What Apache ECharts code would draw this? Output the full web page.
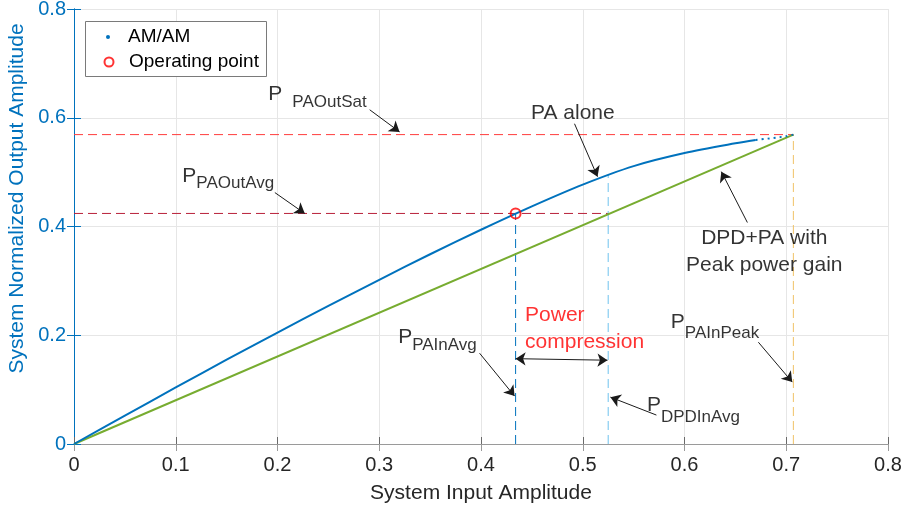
<!DOCTYPE html>
<html><head><meta charset="utf-8">
<script src="https://cdn.jsdelivr.net/npm/echarts@6/dist/echarts.min.js"></script>
<style>html,body{margin:0;padding:0;background:#fff}#c{width:907px;height:514px}</style>
</head><body><div id="c"></div>
<script>
// ---- data ----
const xTickLabels = ['0','0.1','0.2','0.3','0.4','0.5','0.6','0.7','0.8'];
const yTickLabels = ['0','0.2','0.4','0.6','0.8'];
// PA alone AM/AM (solid part)
const paX = [0,0.05,0.1,0.15,0.2,0.25,0.3,0.35,0.4,0.45,0.5,0.55,0.6,0.65,0.67];
const paY = [0,0.052,0.104,0.155,0.205,0.254,0.302,0.349,0.394,0.437,0.477,0.511,0.535,0.553,0.559];
// sparse tail of AM/AM near saturation
const tailX = [0.67,0.7,0.707];
const tailY = [0.559,0.566,0.569];
// DPD + PA linearised
const dpdX = [0,0.707];
const dpdY = [0,0.569];
// operating point
const opX = [0.434];
const opY = [0.424];
// reference levels
const pOutSat = 0.569, pOutAvg = 0.424;
const pPAInAvg = 0.434, pDPDInAvg = 0.525, pPAInPeak = 0.707;
const paAtDPDInAvg = 0.495;

// ---- annotation layout ----
const subLabels = [
  {main:'P', sub:'PAOutSat', at:[0.191,0.663], gap:10, drop:10},
  {main:'P', sub:'PAOutAvg', at:[0.1065,0.511], gap:0, drop:9},
  {main:'P', sub:'PAInAvg', at:[0.3186,0.2156], gap:0, drop:10},
  {main:'P', sub:'PAInPeak', at:[0.5866,0.2431], gap:0, drop:13},
  {main:'P', sub:'DPDInAvg', at:[0.5631,0.0908], gap:0, drop:14}
];
const plainLabels = [
  {text:'PA alone', at:[0.4492,0.6092], align:'left', color:'#000'},
  {text:'DPD+PA with\nPeak power gain', at:[0.6784,0.3532], align:'center', color:'#000'},
  {text:'Power\ncompression', at:[0.4433,0.2125], align:'left', color:'#ff0000'}
];
const arrows = [
  [[0.2906,0.6147],[0.320,0.574]],
  [[0.1974,0.4624],[0.2268,0.4239]],
  [[0.4919,0.589],[0.5145,0.4917]],
  [[0.6618,0.4073],[0.6362,0.5009]],
  [[0.3986,0.167],[0.433,0.0881]],
  [[0.6726,0.1872],[0.7059,0.1138]],
  [[0.5724,0.0532],[0.5272,0.0862]]
];
const doubleArrow = [[0.434,0.1569],[0.5243,0.1541]];

const zip = (a,b) => a.map((v,i)=>[v,b[i]]);
const dash = [9,5];

const markData = arrows.map(a => [
  {coord:a[0], symbol:'none'},
  {coord:a[1], symbol:'arrow', symbolSize:10}
]);
markData.push([
  {coord:doubleArrow[0], symbol:'arrow', symbolSize:10},
  {coord:doubleArrow[1], symbol:'arrow', symbolSize:10}
]);

const annData = [];
subLabels.forEach(s => annData.push({
  value: s.at,
  label: {
    show:true, position:'inside', align:'left', verticalAlign:'top',
    formatter: '{p|' + s.main + '}{s|' + s.sub + '}',
    rich: {
      p: {fontSize:21, lineHeight:23, verticalAlign:'top', color:'#000', fontFamily:'Liberation Sans'},
      s: {fontSize:17, lineHeight:19, verticalAlign:'top', color:'#000', fontFamily:'Liberation Sans', padding:[s.drop,0,0,s.gap]}
    }
  }
}));
plainLabels.forEach(s => annData.push({
  value: s.at,
  label: {
    show:true, position:'inside', align:s.align, verticalAlign:'middle',
    formatter: s.text, color:s.color, fontSize:21, lineHeight:27.5, fontFamily:'Liberation Sans'
  }
}));

const vline = (x, y, color) => ({
  type:'line', data:[[x,0],[x,y]], symbol:'none', silent:true,
  lineStyle:{color:color, width:1, type:dash}, z:1
});
const hline = (x, y, color) => ({
  type:'line', data:[[0,y],[x,y]], symbol:'none', silent:true,
  lineStyle:{color:color, width:1, type:dash}, z:1
});

const axisGray = '#6a6a6a';
const blue = '#0072BD';

const option = {
  animation:false,
  textStyle:{fontFamily:'Liberation Sans'},
  grid:{left:74, right:19, top:9, bottom:70, outerBoundsMode:'none', containLabel:false},
  xAxis:[{
    type:'value', min:0, max:0.8, interval:0.1, position:'bottom',
    name:'System Input Amplitude', nameLocation:'middle', nameGap:39,
    nameTextStyle:{fontSize:21, color:'#262626'},
    axisLine:{show:true, lineStyle:{color:axisGray, width:1}},
    axisTick:{show:true, inside:true, length:7, lineStyle:{color:axisGray}},
    axisLabel:{fontSize:20, color:'#262626', margin:11,
      formatter:v => xTickLabels[Math.round(v*10)]},
    splitLine:{show:true, lineStyle:{color:'#e6e6e6', width:1}}
  },{
    type:'value', min:0, max:0.8, interval:0.1, position:'top',
    axisLine:{show:true, lineStyle:{color:'#9a9a9a', width:1}},
    axisTick:{show:true, inside:true, length:7, lineStyle:{color:'#9a9a9a'}},
    axisLabel:{show:false}, splitLine:{show:false}
  }],
  yAxis:[{
    type:'value', min:0, max:0.8, interval:0.2, position:'left',
    name:'System Normalized Output Amplitude', nameLocation:'middle', nameGap:44,
    nameTextStyle:{fontSize:21, color:blue, padding:[0,0,0,56]},
    axisLine:{show:true, lineStyle:{color:blue, width:1}},
    axisTick:{show:true, inside:true, length:7, lineStyle:{color:blue}},
    axisLabel:{fontSize:20, color:blue, margin:8,
      formatter:v => yTickLabels[Math.round(v*5)]},
    splitLine:{show:true, lineStyle:{color:'#e6e6e6', width:1}}
  },{
    type:'value', min:0, max:0.8, interval:0.2, position:'right',
    axisLine:{show:true, lineStyle:{color:blue, width:1}},
    axisTick:{show:true, inside:true, length:7, lineStyle:{color:blue}},
    axisLabel:{show:false}, splitLine:{show:false}
  }],
  legend:[{
    data:[{name:'AM/AM', icon:'circle', itemStyle:{color:blue}}],
    left:106, top:26, padding:0, itemWidth:4, itemHeight:4, selectedMode:false,
    textStyle:{fontSize:19, color:'#000', lineHeight:22, padding:[0,0,0,13]}
  },{
    data:[{name:'Operating point', icon:'circle', itemStyle:{color:'#fff', borderColor:'#ff0000', borderWidth:2}}],
    left:103.5, top:51, padding:0, itemWidth:9, itemHeight:9, selectedMode:false,
    textStyle:{fontSize:19, color:'#000', lineHeight:22, padding:[0,0,0,10.5]}
  }],
  graphic:[{
    type:'rect', z:3, silent:true,
    shape:{x:85.5, y:21.5, width:181, height:55},
    style:{fill:'#fff', stroke:'#7a7a7a', lineWidth:1}
  }],
  series:[
    hline(pPAInPeak, pOutSat, '#ff3d3d'),
    hline(pDPDInAvg, pOutAvg, '#b8203a'),
    vline(pPAInAvg, pOutAvg, blue),
    vline(pDPDInAvg, paAtDPDInAvg, '#6ec2ee'),
    vline(pPAInPeak, pOutSat, '#f0c266'),
    {
      name:'DPD+PA', type:'line', data:zip(dpdX,dpdY), symbol:'none', silent:true,
      lineStyle:{color:'#77AC30', width:2}, z:3,
      markLine:{
        silent:true, animation:false, symbolSize:10,
        label:{show:false}, emphasis:{disabled:true},
        lineStyle:{color:'#1a1a1a', width:1, type:'solid'},
        data:markData
      }
    },
    {
      name:'AM/AM', type:'line', data:zip(paX,paY), symbol:'none', smooth:0.3, silent:true,
      lineStyle:{color:blue, width:2}, itemStyle:{color:blue}, z:4
    },
    {
      type:'line', data:zip(tailX,tailY), symbol:'none', smooth:0.3, silent:true,
      lineStyle:{color:blue, width:2, type:[2,4]}, z:4
    },
    {
      name:'Operating point', type:'scatter', data:zip(opX,opY), symbol:'circle', symbolSize:10,
      itemStyle:{color:'rgba(0,0,0,0)', borderColor:'#ff0000', borderWidth:2}, z:6, silent:true
    },
    {
      type:'scatter', data:annData, symbol:'circle', symbolSize:1,
      itemStyle:{color:'rgba(0,0,0,0)'}, z:7, silent:true
    }
  ]
};
const chart = echarts.init(document.getElementById('c'));
chart.setOption(option);
</script>
</body></html>
